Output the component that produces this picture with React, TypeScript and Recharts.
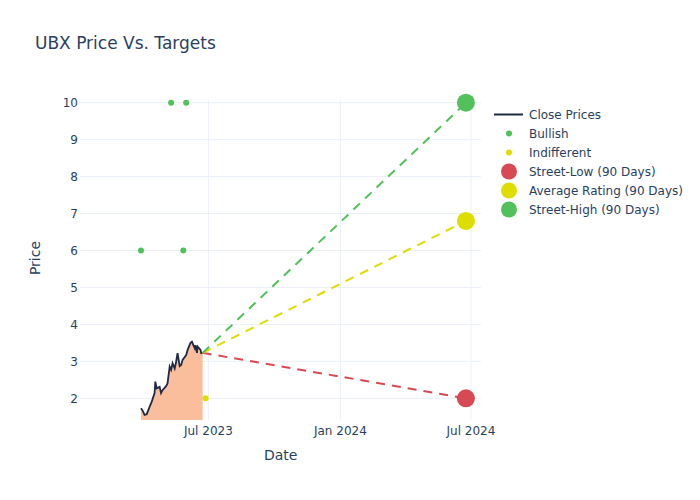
import React from "react";
import {
  ComposedChart,
  Area,
  Line,
  Scatter,
  XAxis,
  YAxis,
  CartesianGrid,
} from "recharts";

// close prices
const priceDates = [
  "2023-03-29", "2023-03-31", "2023-04-03", "2023-04-06", "2023-04-10",
  "2023-04-13", "2023-04-17", "2023-04-18", "2023-04-20", "2023-04-24",
  "2023-04-26", "2023-04-28", "2023-05-03", "2023-05-05", "2023-05-08",
  "2023-05-10", "2023-05-12", "2023-05-15", "2023-05-17", "2023-05-19",
  "2023-05-22", "2023-05-24", "2023-05-26", "2023-05-31", "2023-06-02",
  "2023-06-06", "2023-06-08", "2023-06-12", "2023-06-13", "2023-06-15",
  "2023-06-16", "2023-06-20", "2023-06-21", "2023-06-23",
];
const closePrices = [
  1.73, 1.68, 1.55, 1.57, 1.77,
  1.91, 2.14, 2.45, 2.27, 2.31,
  2.14, 2.22, 2.33, 2.4, 2.86,
  2.77, 2.95, 2.81, 2.99, 3.22,
  2.87, 2.9, 3.04, 3.17, 3.31,
  3.5, 3.53, 3.35, 3.44, 3.23,
  3.4, 3.31, 3.22, 3.23,
];

const bullishDates = ["2023-03-29", "2023-05-10", "2023-05-27", "2023-05-31"];
const bullishTargets = [6, 10, 6, 10];
const indifferentDates = ["2023-06-27"];
const indifferentTargets = [2];

const targetDate = "2024-06-24";
const streetLow = 2;
const averageRating = 6.8;
const streetHigh = 10;

const xTickDates = ["2023-07-01", "2024-01-01", "2024-07-01"];
const yTicks = [2, 3, 4, 5, 6, 7, 8, 9, 10];
const months = ["Jan", "Feb", "Mar", "Apr", "May", "Jun", "Jul", "Aug", "Sep", "Oct", "Nov", "Dec"];

const ts = (s: string) => Date.parse(s + "T00:00:00Z");

const priceData = priceDates.map((d, i) => ({ x: ts(d), y: closePrices[i] }));
const bullishData = bullishDates.map((d, i) => ({ x: ts(d), y: bullishTargets[i] }));
const indifferentData = indifferentDates.map((d, i) => ({ x: ts(d), y: indifferentTargets[i] }));

const last = priceData[priceData.length - 1];
const lowLine = [last, { x: ts(targetDate), y: streetLow }];
const avgLine = [last, { x: ts(targetDate), y: averageRating }];
const highLine = [last, { x: ts(targetDate), y: streetHigh }];

const GREEN = "#52c15b";
const YELLOW = "#dedd00";
const RED = "#d84a53";
const NAVY = "#1f2a44";
const TEXT = "#2a3f5f";
const FONT = "'DejaVu Sans', sans-serif";

const dot = (r: number, color: string) => (props: any) =>
  <circle cx={props.cx} cy={props.cy} r={r} fill={color} />;

const fmtDate = (v: number) => {
  const d = new Date(v);
  return months[d.getUTCMonth()] + " " + d.getUTCFullYear();
};

const legendItems = [
  { label: "Close Prices", kind: "line", color: NAVY },
  { label: "Bullish", kind: "small", color: GREEN },
  { label: "Indifferent", kind: "small", color: YELLOW },
  { label: "Street-Low (90 Days)", kind: "big", color: RED },
  { label: "Average Rating (90 Days)", kind: "big", color: YELLOW },
  { label: "Street-High (90 Days)", kind: "big", color: GREEN },
];

export default function App() {
  const tick = { fill: TEXT, fontSize: 12, fontFamily: FONT };
  return (
    <div
      style={{
        position: "absolute",
        left: 0,
        top: 0,
        width: 700,
        height: 500,
        background: "white",
        fontFamily: FONT,
        color: TEXT,
      }}
    >
      <div style={{ position: "absolute", left: 35, top: 33, fontSize: 17, whiteSpace: "nowrap" }}>
        UBX Price Vs. Targets
      </div>
      <ComposedChart
        width={700}
        height={500}
        margin={{ top: 100, right: 219, bottom: 50, left: 40 }}
      >
        <CartesianGrid stroke="#ebf0f8" strokeWidth={1} syncWithTicks />
        <XAxis
          type="number"
          dataKey="x"
          domain={[ts("2023-01-03"), ts("2024-07-15")]}
          ticks={xTickDates.map(ts)}
          tickFormatter={fmtDate}
          axisLine={false}
          tickLine={false}
          tickSize={0}
          tickMargin={6}
          height={30}
          tick={tick}
        />
        <YAxis
          type="number"
          domain={[1.413, 10.073]}
          ticks={yTicks}
          axisLine={false}
          tickLine={false}
          tickSize={0}
          tickMargin={2}
          width={40}
          tick={tick}
        />
        <Area
          data={priceData}
          dataKey="y"
          type="linear"
          stroke={NAVY}
          strokeWidth={1.8}
          fill="#fbbe9c"
          fillOpacity={1}
          dot={false}
          activeDot={false}
          isAnimationActive={false}
        />
        <Line data={lowLine} dataKey="y" type="linear" stroke={RED} strokeWidth={2}
          strokeDasharray="9 7" dot={false} activeDot={false} isAnimationActive={false} />
        <Line data={avgLine} dataKey="y" type="linear" stroke={YELLOW} strokeWidth={2}
          strokeDasharray="9 7" dot={false} activeDot={false} isAnimationActive={false} />
        <Line data={highLine} dataKey="y" type="linear" stroke={GREEN} strokeWidth={2}
          strokeDasharray="9 7" dot={false} activeDot={false} isAnimationActive={false} />
        <Scatter data={bullishData} dataKey="y" shape={dot(3, GREEN)} isAnimationActive={false} />
        <Scatter data={indifferentData} dataKey="y" shape={dot(3, YELLOW)} isAnimationActive={false} />
        <Scatter data={[lowLine[1]]} dataKey="y" shape={dot(9, RED)} isAnimationActive={false} />
        <Scatter data={[avgLine[1]]} dataKey="y" shape={dot(9, YELLOW)} isAnimationActive={false} />
        <Scatter data={[highLine[1]]} dataKey="y" shape={dot(9, GREEN)} isAnimationActive={false} />
      </ComposedChart>
      <div style={{ position: "absolute", left: 264, top: 447, fontSize: 14 }}>Date</div>
      <div
        style={{
          position: "absolute",
          left: 35,
          top: 258,
          fontSize: 14,
          transform: "translate(-50%, -50%) rotate(-90deg)",
          whiteSpace: "nowrap",
        }}
      >
        Price
      </div>
      <div style={{ position: "absolute", left: 494, top: 105 }}>
        {legendItems.map((it) => (
          <div key={it.label} style={{ display: "flex", alignItems: "center", height: 19 }}>
            <svg width={35} height={19} style={{ flex: "none" }}>
              {it.kind === "line" ? (
                <line x1={0} y1={9.5} x2={29} y2={9.5} stroke={it.color} strokeWidth={2} />
              ) : (
                <circle cx={15} cy={9.5} r={it.kind === "big" ? 8 : 3} fill={it.color} />
              )}
            </svg>
            <span style={{ fontSize: 12, whiteSpace: "nowrap" }}>{it.label}</span>
          </div>
        ))}
      </div>
    </div>
  );
}
